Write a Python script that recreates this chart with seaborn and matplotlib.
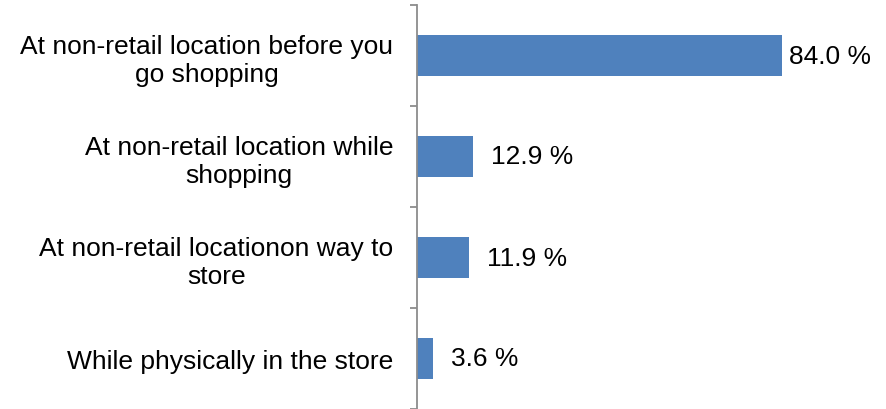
import matplotlib
matplotlib.use("Agg")
import matplotlib.pyplot as plt
import seaborn as sns
import pandas as pd

categories = [
    "At non-retail location before you\ngo shopping",
    "At non-retail location while\nshopping",
    "At non-retail locationon way to\nstore",
    "While physically in the store",
]
shares = [84.0, 12.9, 11.9, 3.6]

sns.set_theme(style="white")
plt.rcParams["font.family"] = ["Liberation Sans", "DejaVu Sans"]

df = pd.DataFrame({"where": categories, "share": shares})

fig = plt.figure(figsize=(8.86, 4.10), dpi=100)
ax = fig.add_axes([417 / 886, 0.0, 434.5 / 886, 1 - 6 / 410])

sns.barplot(data=df, y="where", x="share", orient="h", color="#4F81BD",
            width=0.4, saturation=1, ax=ax, edgecolor="none")

n = len(categories)
ax.set_xlim(0, 100)
ax.set_ylim(n - 0.5, -0.5)
ax.set_xlabel("")
ax.set_ylabel("")
ax.set_xticks([])

for side in ("top", "right", "bottom"):
    ax.spines[side].set_visible(False)
ax.spines["left"].set_color("#8c8c8c")
ax.spines["left"].set_linewidth(1.3)

# boundary ticks between categories, labels centred on each bar
ax.set_yticks([i - 0.5 for i in range(n + 1)])
ax.set_yticklabels([])
ax.tick_params(axis="y", which="major", length=5, width=1.3, color="#8c8c8c", left=True)
ax.set_yticks(range(n), minor=True)
ax.set_yticklabels(categories, minor=True, fontsize=19, color="#000000",
                   linespacing=1.2, ha="right", multialignment="center")
ax.tick_params(axis="y", which="minor", length=0, pad=17)

for i, v in enumerate(shares):
    pad = 5 if v > 80 else 13
    ax.annotate(f"{v:.1f} %", xy=(v, i), xytext=(pad, 0), textcoords="offset points",
                va="center", ha="left", fontsize=19, color="#000000")

fig.savefig("out.png", dpi=100)
